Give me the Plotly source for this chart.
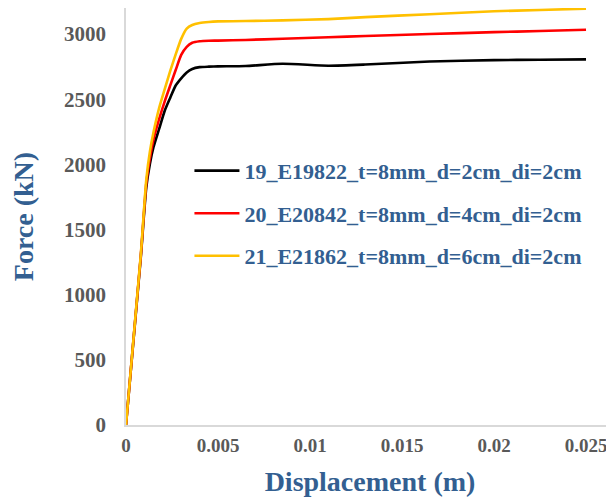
import plotly.graph_objects as go

# Displacement (m)
disp = [0, 0.0008, 0.0011, 0.0013, 0.0015, 0.0018, 0.0021, 0.0024, 0.0027, 0.003,
        0.0033, 0.0036, 0.004, 0.0045, 0.005, 0.0065, 0.0085, 0.011, 0.013, 0.0165,
        0.02, 0.0225, 0.025]

# Force (kN)
force_19 = [0, 1280, 1820, 2005, 2135, 2272, 2410, 2510, 2605, 2660,
            2705, 2732, 2746, 2750, 2752, 2755, 2772, 2757, 2766, 2790,
            2800, 2803, 2806]
force_20 = [0, 1290, 1850, 2048, 2196, 2347, 2482, 2604, 2724, 2840,
            2902, 2933, 2945, 2949, 2950, 2955, 2964, 2975, 2985, 3000,
            3015, 3023, 3033]
force_21 = [0, 1300, 1880, 2100, 2250, 2432, 2575, 2715, 2844, 2963,
            3042, 3070, 3085, 3093, 3097, 3100, 3105, 3115, 3130, 3152,
            3175, 3185, 3195]

names = ["19_E19822_t=8mm_d=2cm_di=2cm",
         "20_E20842_t=8mm_d=4cm_di=2cm",
         "21_E21862_t=8mm_d=6cm_di=2cm"]
colors = ["#000000", "#FF0000", "#FFC000"]

x_ticks = [0, 0.005, 0.01, 0.015, 0.02, 0.025]
x_tick_text = ["0", "0.005", "0.01", "0.015", "0.02", "0.025"]
y_ticks = [0, 500, 1000, 1500, 2000, 2500, 3000]

fig = go.Figure()
for i, (ys, nm, c) in enumerate(zip([force_19, force_20, force_21], names, colors)):
    fig.add_trace(go.Scatter(
        x=disp, y=ys, name=nm, mode="lines",
        line=dict(color=c, width=2.6, shape="spline", smoothing=0.6),
        legendgroup=str(i),
    ))

font_family = "Liberation Serif, Times New Roman, serif"
title_color = "#335F91"

# page body has an 8px margin, so the figure is 8px smaller than the window
fig.update_layout(
    width=606, height=492,
    margin=dict(l=118, r=0, t=0, b=75),
    paper_bgcolor="white", plot_bgcolor="white",
    font=dict(family=font_family),
    showlegend=True,
    legend=dict(
        x=0.13, y=0.66, xanchor="left", yanchor="top",
        bgcolor="rgba(0,0,0,0)",
        font=dict(family=font_family, size=22, color=title_color, weight="bold"),
        tracegroupgap=11,
        itemwidth=45,
    ),
    xaxis=dict(
        range=[0, 0.02652],
        tickmode="array", tickvals=x_ticks, ticktext=x_tick_text,
        showgrid=False, zeroline=False,
        showline=True, linecolor="#D9D9D9", linewidth=1.5,
        ticks="outside", ticklen=2, tickcolor="rgba(0,0,0,0)",
        tickfont=dict(family=font_family, size=19, color="#595959", weight="bold"),
        title=dict(text="Displacement (m)", standoff=17,
                   font=dict(family=font_family, size=28, color=title_color, weight="bold")),
        automargin=False,
    ),
    yaxis=dict(
        range=[0, 3200],
        tickmode="array", tickvals=y_ticks,
        showgrid=False, zeroline=False,
        showline=True, linecolor="#D9D9D9", linewidth=1.5,
        ticks="outside", ticklen=14, tickcolor="rgba(0,0,0,0)",
        tickfont=dict(family=font_family, size=21, color="#595959", weight="bold"),
        title=dict(text="Force (kN)", standoff=22,
                   font=dict(family=font_family, size=28, color=title_color, weight="bold")),
        automargin=False,
    ),
)

fig.write_html("out.html")
